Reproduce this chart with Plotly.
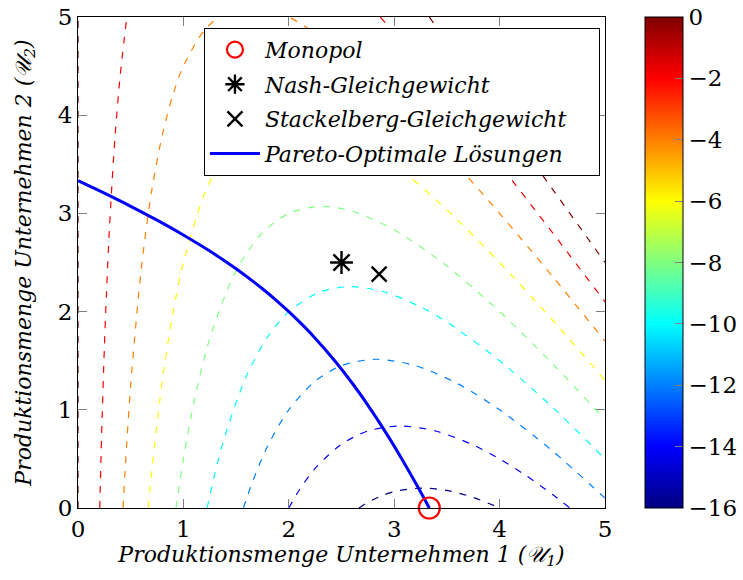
import plotly.graph_objects as go
from plotly.colors import sample_colorscale

# ---------------- data ----------------
# contour levels (values of the colour scale)
level_values = [0, -2, -4, -6, -8, -10, -12, -14, -16]

# iso-lines, u1 (x) and u2 (y) coordinates for each level (None separates branches)
lvl_0_u1 = [0, 0, None, 3.333, 4.0, 4.5, 5.0]
lvl_0_u2 = [0, 5, None, 5.0, 4.0, 3.25, 2.5]

lvl_m2_u1 = [0.2064, 0.21, 0.22, 0.23, 0.25, 0.27, 0.30, 0.35, 0.40, 0.45, 0.4648, None,
             2.8685, 3.0, 3.5, 4.0, 4.5, 5.0]
lvl_m2_u2 = [0.0, 0.161, 0.579, 0.959, 1.625, 2.188, 2.883, 3.761, 4.40, 4.881, 5.0, None,
             5.0, 4.833, 4.179, 3.50, 2.806, 2.10]

lvl_m4_u1 = [0.4274, 0.45, 0.50, 0.60, 0.70, 0.80, 0.90, 1.0, 1.2, 1.4, 1.633, 1.8, 2.0,
             2.5, 3.0, 3.5, 4.0, 4.5, 5.0]
lvl_m4_u2 = [0.0, 0.436, 1.25, 2.433, 3.236, 3.80, 4.206, 4.50, 4.867, 5.043, 5.101, 5.078, 5.0,
             4.65, 4.167, 3.607, 3.0, 2.361, 1.70]

lvl_m6_u1 = [0.6667, 0.70, 0.80, 0.90, 1.0, 1.2, 1.4, 1.6, 2.0, 2.5, 3.0, 3.5, 4.0, 4.5, 5.0]
lvl_m6_u2 = [0.0, 0.379, 1.30, 1.983, 2.50, 3.20, 3.614, 3.85, 4.0, 3.85, 3.50, 3.036, 2.50, 1.917, 1.30]

lvl_m8_u1 = [0.9296, 1.0, 1.1, 1.25, 1.5, 1.75, 2.0, 2.309, 2.6, 3.0, 3.5, 4.0, 4.5, 5.0]
lvl_m8_u2 = [0.0, 0.50, 1.077, 1.725, 2.417, 2.804, 3.0, 3.072, 3.023, 2.833, 2.464, 2.0, 1.472, 0.90]

lvl_m10_u1 = [1.2251, 1.3, 1.4, 1.6, 1.8, 2.0, 2.3, 2.582, 2.9, 3.25, 3.5, 4.0, 4.5, 5.0]
lvl_m10_u2 = [0.0, 0.358, 0.757, 1.35, 1.744, 2.0, 2.202, 2.254, 2.202, 2.048, 1.893, 1.50, 1.028, 0.50]

lvl_m12_u1 = [1.5695, 1.65, 1.8, 2.0, 2.25, 2.5, 2.828, 3.2, 3.6, 4.0, 4.5, 5.0]
lvl_m12_u2 = [0.0, 0.252, 0.633, 1.0, 1.292, 1.45, 1.515, 1.45, 1.267, 1.0, 0.583, 0.10]

lvl_m14_u1 = [2.0, 2.1, 2.25, 2.5, 2.75, 3.055, 3.4, 3.75, 4.0, 4.25, 4.5, 4.6667]
lvl_m14_u2 = [0.0, 0.183, 0.403, 0.65, 0.784, 0.835, 0.782, 0.642, 0.50, 0.331, 0.139, 0.0]

lvl_m16_u1 = [2.6667, 2.75, 2.9, 3.05, 3.266, 3.5, 3.75, 4.0]
lvl_m16_u2 = [0.0, 0.057, 0.133, 0.179, 0.202, 0.179, 0.108, 0.0]

# Pareto-optimal solutions
pareto_u1 = [0.0, 0.125, 0.25, 0.5, 0.75, 1.0, 1.25, 1.5, 1.75, 1.875, 2.0,
             2.1205, 2.2327, 2.4359, 2.6166, 2.7804, 2.9313, 3.0723, 3.2058, 3.2702, 3.3333]
pareto_u2 = [3.3333, 3.2702, 3.2058, 3.0723, 2.9313, 2.7804, 2.6166, 2.4359, 2.2327, 2.1205, 2.0,
             1.875, 1.75, 1.5, 1.25, 1.0, 0.75, 0.5, 0.25, 0.125, 0.0]

# special points
monopol_u1, monopol_u2 = [3.3333], [0.0]
nash_u1, nash_u2 = [2.5], [2.5]
stackelberg_u1, stackelberg_u2 = [2.857], [2.381]

axis_ticks = [0, 1, 2, 3, 4, 5]
cbar_ticks = [-16, -14, -12, -10, -8, -6, -4, -2, 0]
cmin, cmax = -16, 0

# ---------------- styling ----------------
jet = [[0.0, 'rgb(0,0,128)'], [0.125, 'rgb(0,0,255)'], [0.375, 'rgb(0,255,255)'],
       [0.625, 'rgb(255,255,0)'], [0.875, 'rgb(255,0,0)'], [1.0, 'rgb(128,0,0)']]

ITALIC = dict(family='"DejaVu Serif", serif', size=22, color='black', style='italic')
TICKF = dict(family='"DejaVu Serif", serif', size=23, color='black')

fig = go.Figure()

contours = [
    (0, lvl_0_u1, lvl_0_u2), (-2, lvl_m2_u1, lvl_m2_u2), (-4, lvl_m4_u1, lvl_m4_u2),
    (-6, lvl_m6_u1, lvl_m6_u2), (-8, lvl_m8_u1, lvl_m8_u2), (-10, lvl_m10_u1, lvl_m10_u2),
    (-12, lvl_m12_u1, lvl_m12_u2), (-14, lvl_m14_u1, lvl_m14_u2), (-16, lvl_m16_u1, lvl_m16_u2),
]
for lev, xs, ys in contours:
    col = sample_colorscale(jet, [(lev - cmin) / (cmax - cmin)])[0]
    fig.add_trace(go.Scatter(x=xs, y=ys, mode='lines', showlegend=False, hoverinfo='skip',
                             line=dict(color=col, width=1.2, dash='7px,8px', shape='spline',
                                       smoothing=0.8)))

# colour bar carrier
fig.add_trace(go.Scatter(x=[-10, -10], y=[-10, -10], mode='markers', showlegend=False,
                         hoverinfo='skip',
                         marker=dict(color=[cmin, cmax], colorscale=jet, cmin=cmin, cmax=cmax,
                                     size=1, showscale=True,
                                     colorbar=dict(x=1.0759, xanchor='left', y=0.5, yanchor='middle',
                                                   len=1, lenmode='fraction', thickness=38,
                                                   xpad=0, ypad=0, outlinewidth=1,
                                                   outlinecolor='black', ticks='inside',
                                                   ticklen=8, tickcolor='gray',
                                                   tickvals=cbar_ticks, tickfont=TICKF))))

fig.add_trace(go.Scatter(x=pareto_u1, y=pareto_u2, mode='lines', name='Pareto-Optimale Lösungen',
                         legendrank=4, legendgroup='g4',
                         line=dict(color='rgb(0,0,255)', width=3, shape='spline')))
fig.add_trace(go.Scatter(x=monopol_u1, y=monopol_u2, mode='markers', name='Monopol', legendrank=1,
                         legendgroup='g1', cliponaxis=False,
                         marker=dict(symbol='circle-open', size=21, color='red',
                                     line=dict(width=2.2, color='red'))))
fig.add_trace(go.Scatter(x=nash_u1, y=nash_u2, mode='markers', name='Nash-Gleichgewicht',
                         legendrank=2, legendgroup='g2', cliponaxis=False,
                         marker=dict(symbol='asterisk-open', size=19, color='black',
                                     line=dict(width=2.4, color='black'))))
fig.add_trace(go.Scatter(x=stackelberg_u1, y=stackelberg_u2, mode='markers',
                         name='Stackelberg-Gleichgewicht\u2003\u2005', legendrank=3,
                         legendgroup='g3', cliponaxis=False,
                         marker=dict(symbol='x-thin-open', size=15, color='black',
                                     line=dict(width=2.4, color='black'))))

axis_common = dict(range=[0, 5], tickvals=axis_ticks, ticks='inside', ticklen=9, tickcolor='gray',
                   showline=True, linecolor='black', linewidth=1, mirror='ticks',
                   showgrid=False, zeroline=False, tickfont=TICKF, automargin=False)

fig.update_layout(
    width=743, height=580,
    margin=dict(l=78, r=138, t=17, b=72, pad=0, autoexpand=False),
    paper_bgcolor='white', plot_bgcolor='white',
    xaxis=dict(title=dict(text='Produktionsmenge Unternehmen 1 (𝒰<sub>1</sub>)', font=ITALIC,
                          standoff=4), **axis_common),
    yaxis=dict(title=dict(text='Produktionsmenge Unternehmen 2 (𝒰<sub>2</sub>)', font=ITALIC,
                          standoff=20), **axis_common),
    legend=dict(x=0.239, y=0.978, xanchor='left', yanchor='top', bgcolor='white',
                bordercolor='black', borderwidth=1, font=ITALIC, tracegroupgap=3,
                itemwidth=50),
    showlegend=True,
)

fig.write_html('out.html')
